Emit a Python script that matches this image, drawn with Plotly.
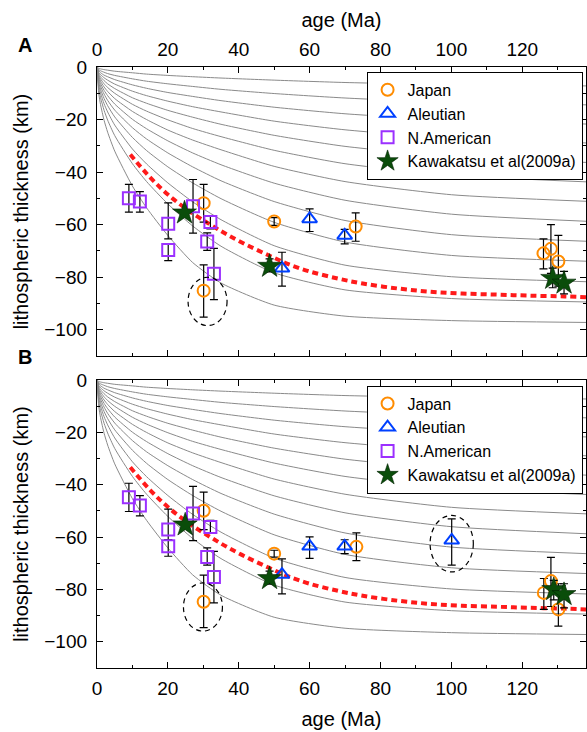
import plotly.graph_objects as go

# ---------------- model isotherm curves (gray) ----------------
model_age = [0, 0.5, 1, 2, 3, 5, 10, 14, 20, 27, 35, 50, 70, 100, 138]
isotherm_depths = [
    [0, 0.5, 0.71, 1.0, 1.2, 1.6, 2.2, 2.7, 3.2, 3.7, 4.2, 5.0, 5.9, 6.7, 7.2],
    [0, 1.0, 1.43, 2.0, 2.5, 3.2, 4.5, 5.4, 6.4, 7.4, 8.5, 10.1, 11.8, 13.5, 14.4],
    [0, 1.5, 2.16, 3.1, 3.7, 4.8, 6.8, 8.1, 9.7, 11.2, 12.8, 15.3, 17.8, 20.2, 21.7],
    [0, 2.1, 2.91, 4.1, 5.0, 6.5, 9.2, 10.9, 13.0, 15.1, 17.1, 20.6, 23.9, 27.1, 28.9],
    [0, 2.6, 3.69, 5.2, 6.4, 8.2, 11.7, 13.8, 16.5, 19.1, 21.8, 26.0, 30.2, 34.1, 36.3],
    [0, 3.2, 4.49, 6.4, 7.8, 10.0, 14.2, 16.8, 20.1, 23.4, 26.5, 31.7, 36.8, 41.2, 43.7],
    [0, 3.8, 5.36, 7.6, 9.3, 12.0, 16.9, 20.0, 24.0, 27.8, 31.5, 37.8, 43.6, 48.6, 51.1],
    [0, 4.4, 6.29, 8.9, 10.9, 14.1, 19.9, 23.5, 28.1, 32.7, 37.2, 44.2, 50.7, 56.0, 58.7],
    [0, 5.2, 7.32, 10.3, 12.7, 16.4, 23.1, 27.4, 32.7, 38.0, 43.3, 51.2, 58.4, 63.8, 66.3],
    [0, 6.0, 8.49, 12.0, 14.7, 19.0, 26.8, 31.8, 38.0, 44.1, 50.1, 59.1, 66.6, 71.7, 73.9],
    [0, 7.0, 9.87, 14.0, 17.1, 22.1, 31.2, 36.9, 44.1, 51.3, 58.1, 68.0, 75.4, 79.8, 81.7],
    [0, 8.2, 11.65, 16.5, 20.2, 26.1, 36.8, 43.6, 52.1, 60.5, 68.2, 78.3, 84.8, 88.1, 89.4],
    [0, 10.1, 14.33, 20.3, 24.8, 32.0, 45.3, 53.6, 64.1, 74.4, 82.2, 90.6, 94.8, 96.5, 97.2],
]

# ---------------- red dotted reference curve ----------------
red_age = [9.4, 15, 20, 26, 32, 37, 43, 49, 54, 60, 68, 75, 85, 94, 103, 113, 122, 132, 138]
red_thk = [-33.3, -42.0, -48.5, -54.8, -60.0, -64.0, -68.2, -72.0, -75.0, -77.8, -80.5,
           -82.4, -84.3, -85.5, -86.2, -86.6, -87.0, -87.3, -87.6]

# ---------------- panel A observations ----------------
japan_age_A = [30.1, 30.1, 50.0, 73.0, 126.0, 128.1, 130.2]
japan_thk_A = [-51.8, -85.1, -58.8, -60.7, -70.9, -69.2, -74.0]
japan_top_A = [-44.7, -75.3, -57.3, -55.5, -65.4, -60.0, -64.1]
japan_bot_A = [-59.0, -95.2, -60.3, -66.3, -76.8, -78.5, -83.4]

aleut_age_A = [52.2, 60.0, 69.9]
aleut_thk_A = [-76.6, -57.8, -64.1]
aleut_top_A = [-70.5, -54.0, -61.8]
aleut_bot_A = [-83.4, -62.6, -67.3]

namer_age_A = [9.0, 12.1, 20.1, 20.1, 27.1, 32.0, 31.1, 33.0]
namer_thk_A = [-49.9, -51.2, -59.6, -69.6, -53.0, -59.0, -66.4, -78.7]
namer_top_A = [-44.7, -47.4, -51.7, -67.3, -42.8, -56.8, -63.1, -69.0]
namer_bot_A = [-55.2, -55.2, -65.4, -73.7, -63.2, -61.6, -69.8, -88.5]

kawa_age_A = [24.7, 48.7, 128.6, 131.8]
kawa_thk_A = [-55.5, -75.8, -80.4, -82.2]
kawa_top_A = [-55.5, -73.0, -76.5, -77.8]
kawa_bot_A = [-55.5, -78.0, -84.0, -86.3]

# ---------------- panel B observations ----------------
japan_age_B = [30.1, 30.1, 50.0, 73.2, 126.1, 128.1, 130.2]
japan_thk_B = [-49.9, -84.7, -66.3, -63.7, -81.3, -76.8, -87.6]
japan_top_B = [-42.8, -74.5, -65.0, -58.4, -75.8, -67.7, -77.8]
japan_bot_B = [-57.1, -94.6, -67.6, -69.0, -87.6, -86.5, -94.0]

aleut_age_B = [52.2, 60.0, 69.9, 100.1]
aleut_thk_B = [-74.3, -63.5, -63.5, -61.2]
aleut_top_B = [-68.3, -59.9, -61.0, -53.0]
aleut_bot_B = [-81.7, -68.1, -66.3, -70.7]

namer_age_B = [9.0, 12.1, 20.1, 20.1, 27.1, 32.0, 31.1, 33.0]
namer_thk_B = [-44.8, -47.9, -57.1, -63.5, -51.0, -56.1, -67.6, -75.2]
namer_top_B = [-39.4, -44.1, -49.3, -61.0, -40.6, -53.6, -64.1, -65.4]
namer_bot_B = [-50.2, -51.9, -61.0, -67.3, -61.3, -58.4, -70.7, -85.1]

kawa_age_B = [24.9, 48.7, 128.9, 131.8]
kawa_thk_B = [-55.3, -75.8, -80.0, -81.9]
kawa_top_B = [-55.3, -73.0, -76.5, -77.8]
kawa_bot_B = [-55.3, -78.0, -84.0, -87.0]

# highlighted (dashed ellipse) observations: centre age, centre thickness, half-width, half-height
ellipses_A = [(31.2, -89.2, 5.5, 9.2)]
ellipses_B = [(29.9, -86.7, 5.5, 9.2), (100.1, -62.5, 6.1, 10.8)]

series_names = ["Japan", "Aleutian", "N.American", "Kawakatsu et al(2009a)"]

FONT = "Liberation Sans, Arial, Helvetica, sans-serif"
styles = {
    "Japan": dict(symbol="circle-open", color="#ff8c00", size=12, line=dict(width=2, color="#ff8c00")),
    "Aleutian": dict(symbol="triangle-up-open", color="#0040ff", size=13, line=dict(width=2, color="#0040ff")),
    "N.American": dict(symbol="square-open", color="#9b30ff", size=12, line=dict(width=2, color="#9b30ff")),
    "Kawakatsu et al(2009a)": dict(symbol="star", color="#0a4d0a", size=18, line=dict(width=0.6, color="#002200")),
}

fig = go.Figure()


def add_panel(xa, ya, legend, data, ellipses):
    for depths in isotherm_depths:
        fig.add_trace(go.Scatter(x=model_age, y=[-d for d in depths], mode="lines",
                                 line=dict(color="#8a8a8a", width=1, shape="spline", smoothing=0.6),
                                 showlegend=False, hoverinfo="skip", xaxis=xa, yaxis=ya))
    fig.add_trace(go.Scatter(x=red_age, y=red_thk, mode="lines",
                             line=dict(color="#ff1a1a", width=4, dash="6px,4px", shape="spline"),
                             showlegend=False, hoverinfo="skip", xaxis=xa, yaxis=ya))
    for name, (ages, thk, top, bot) in zip(series_names, data):
        fig.add_trace(go.Scatter(
            x=ages, y=thk, mode="markers", name=name, legend=legend,
            marker=styles[name],
            error_y=dict(type="data", symmetric=False,
                         array=[t - v for t, v in zip(top, thk)],
                         arrayminus=[v - b for v, b in zip(thk, bot)],
                         color="black", thickness=1.2, width=4),
            xaxis=xa, yaxis=ya))
    for cx, cy, rx, ry in ellipses:
        fig.add_shape(type="circle", xref=xa, yref=ya,
                      x0=cx - rx, x1=cx + rx, y0=cy - ry, y1=cy + ry,
                      line=dict(color="black", width=1.2, dash="5px,4px"))


add_panel("x", "y", "legend",
          [(japan_age_A, japan_thk_A, japan_top_A, japan_bot_A),
           (aleut_age_A, aleut_thk_A, aleut_top_A, aleut_bot_A),
           (namer_age_A, namer_thk_A, namer_top_A, namer_bot_A),
           (kawa_age_A, kawa_thk_A, kawa_top_A, kawa_bot_A)], ellipses_A)
add_panel("x2", "y2", "legend2",
          [(japan_age_B, japan_thk_B, japan_top_B, japan_bot_B),
           (aleut_age_B, aleut_thk_B, aleut_top_B, aleut_bot_B),
           (namer_age_B, namer_thk_B, namer_top_B, namer_bot_B),
           (kawa_age_B, kawa_thk_B, kawa_top_B, kawa_bot_B)], ellipses_B)

tickfont = dict(family=FONT, size=19, color="black")
titlefont = dict(family=FONT, size=20, color="black")
common_x = dict(range=[0, 138], tick0=0, dtick=20, ticks="inside", ticklen=6, tickwidth=1,
                minor=dict(dtick=10, ticklen=3, ticks="inside", tickwidth=1),
                showline=True, linecolor="black", linewidth=1.3, mirror="allticks",
                showgrid=False, zeroline=False, tickfont=tickfont, tickcolor="black")
common_y = dict(range=[-110, 0], tick0=0, dtick=20, ticks="inside", ticklen=6, tickwidth=1,
                minor=dict(dtick=10, ticklen=3, ticks="inside", tickwidth=1),
                showline=True, linecolor="black", linewidth=1.3, mirror="allticks",
                showgrid=False, zeroline=False, tickfont=tickfont, tickcolor="black",
                ticklabelstandoff=5,
                title=dict(text="lithospheric thickness (km)", font=titlefont, standoff=10))

legend_common = dict(bordercolor="black", borderwidth=1, bgcolor="white",
                     font=dict(family=FONT, size=16, color="black"),
                     xanchor="right", yanchor="top", tracegroupgap=0, itemwidth=30)

fig.update_layout(
    width=587, height=732,
    margin=dict(l=97, r=1, t=67, b=64),
    plot_bgcolor="white", paper_bgcolor="white",
    font=dict(family=FONT, color="black"),
    xaxis=dict(common_x, domain=[0, 1], anchor="y", side="top", ticklabelstandoff=2,
               title=dict(text="age (Ma)", font=titlefont, standoff=6)),
    yaxis=dict(common_y, domain=[0.519, 1], anchor="x"),
    xaxis2=dict(common_x, domain=[0, 1], anchor="y2", side="bottom", ticklabelstandoff=3,
                title=dict(text="age (Ma)", font=titlefont, standoff=14)),
    yaxis2=dict(common_y, domain=[0, 0.479], anchor="x2"),
    legend=dict(legend_common, x=0.993, y=0.992),
    legend2=dict(legend_common, x=0.993, y=0.470),
    annotations=[
        dict(text="<b>A</b>", xref="paper", yref="paper", x=-0.148, y=1.037,
             xanchor="center", yanchor="middle", showarrow=False,
             font=dict(family=FONT, size=20, color="black")),
        dict(text="<b>B</b>", xref="paper", yref="paper", x=-0.148, y=0.518,
             xanchor="center", yanchor="middle", showarrow=False,
             font=dict(family=FONT, size=20, color="black")),
    ],
)

fig.write_html("out.html")
